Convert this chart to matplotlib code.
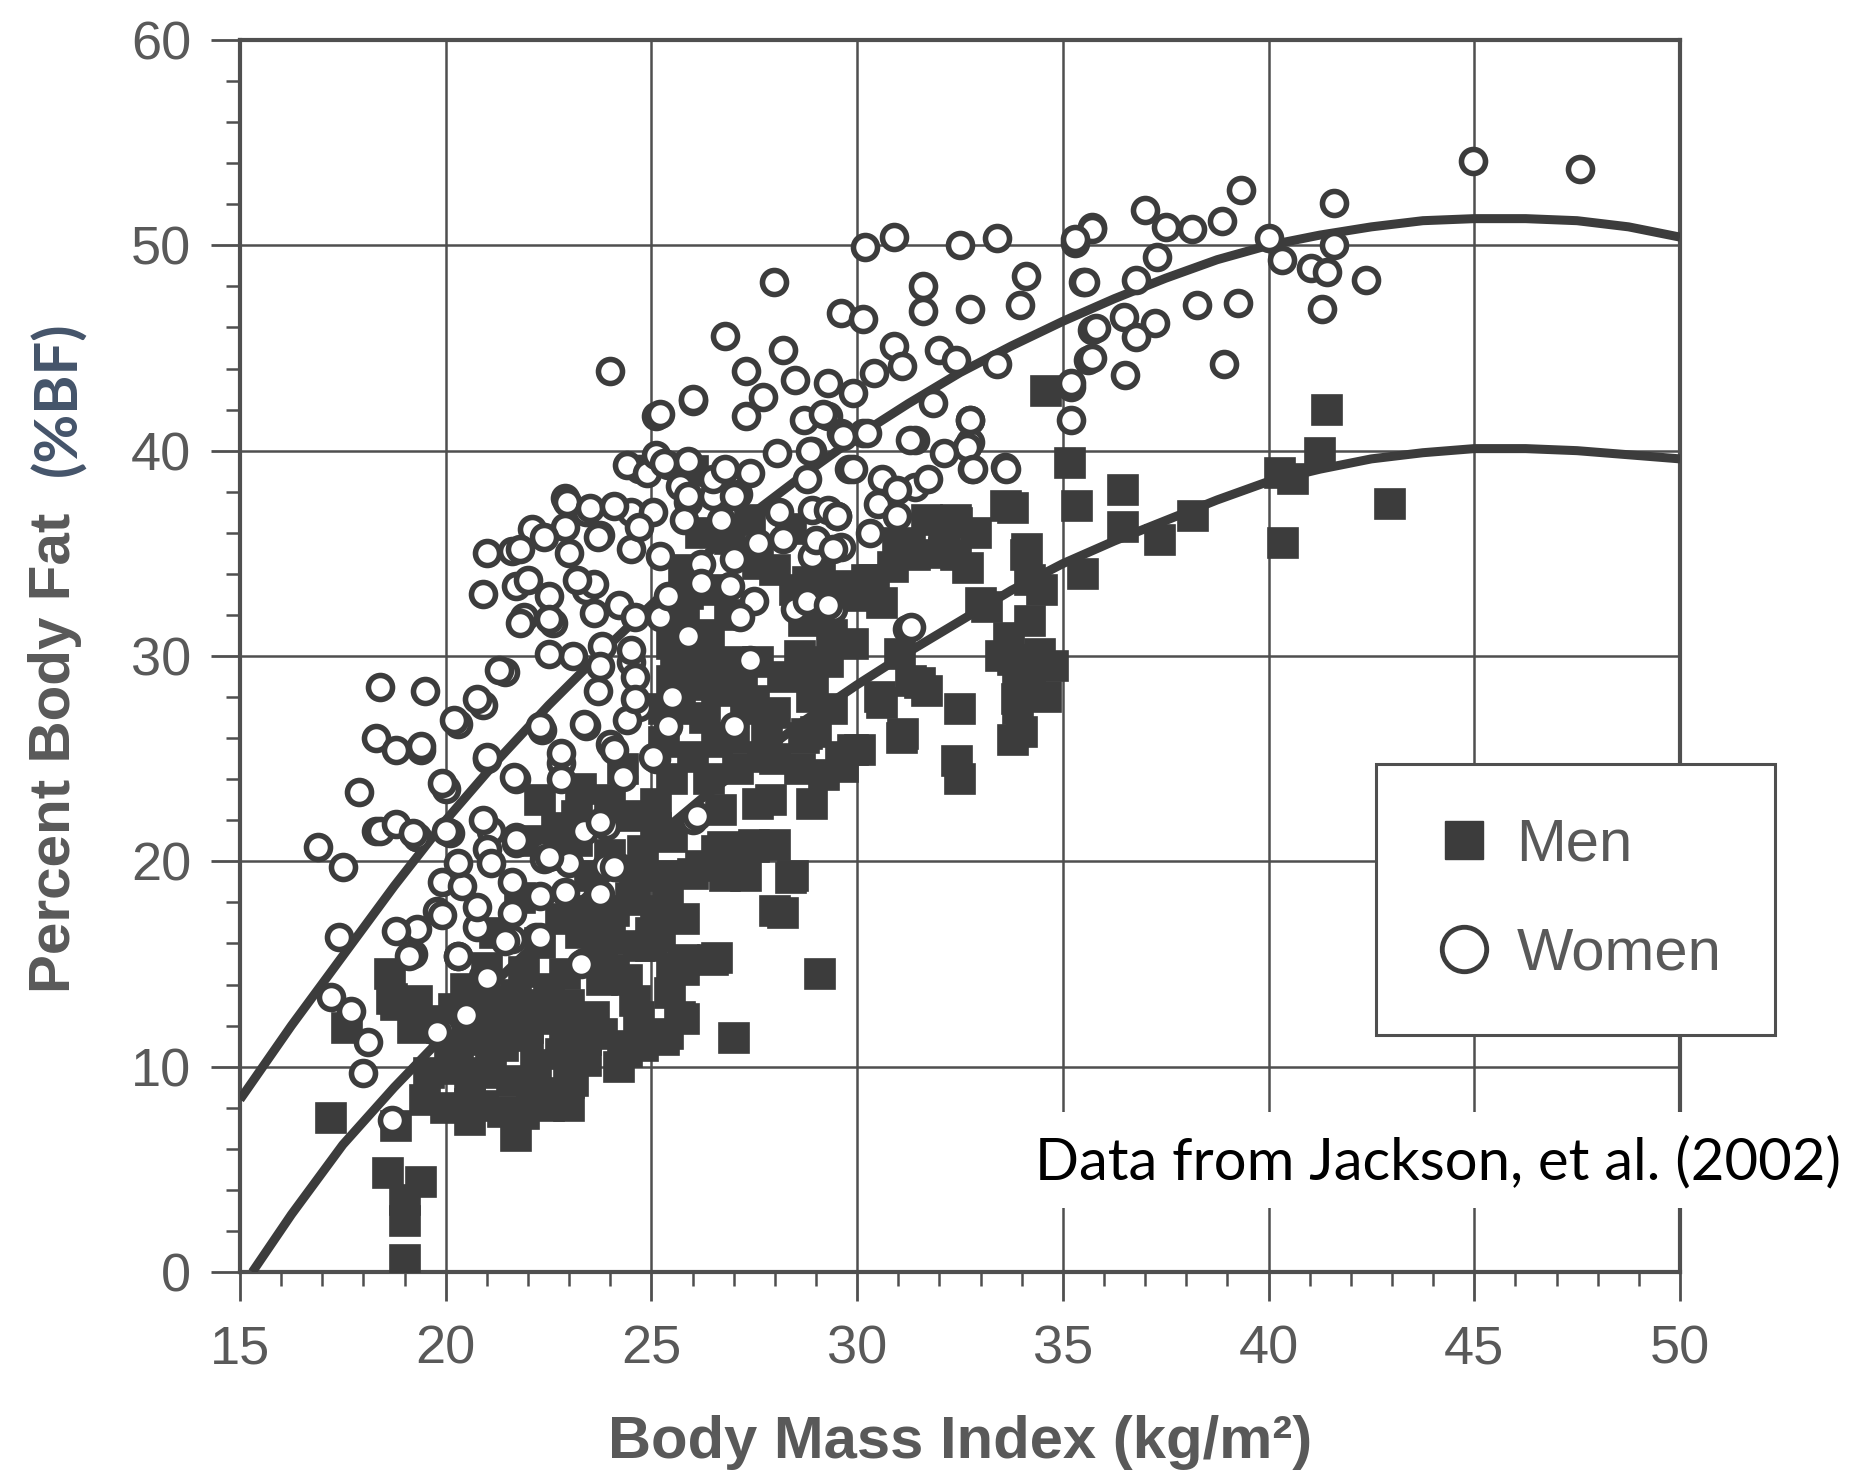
import numpy as np
import matplotlib.pyplot as plt
from matplotlib.lines import Line2D
from matplotlib.patches import Rectangle
from matplotlib.ticker import MultipleLocator

plt.rcParams['font.family'] = ['Liberation Sans', 'DejaVu Sans']

# ----------------------------------------------------------------------------
# Data: (BMI, %BF) for each subject
men = np.array([
    (17.2, 7.5), (18.65, 14.5), (18.7, 13.3), (17.6, 11.9), (18.8, 7.1), (18.6, 4.8),
    (19.4, 4.4), (19.0, 3.5), (19.0, 2.5), (19.0, 0.6), (19.3, 13.2), (19.5, 12.2),
    (19.6, 9.7), (19.5, 8.4), (20.6, 8.2), (20.6, 7.4), (21.7, 6.6), (21.9, 7.7),
    (20.9, 9.7), (21.4, 11.0), (22.5, 8.7), (23.0, 8.1), (23.0, 9.2), (23.4, 10.3),
    (24.2, 10.0), (24.4, 10.7), (25.4, 11.6), (25.8, 12.3), (26.0, 19.4), (25.8, 17.2),
    (20.1, 10.7), (22.4, 12.3), (23.8, 15.2), (23.8, 17.2), (24.6, 18.1), (25.0, 15.9),
    (19.9, 11.9), (20.4, 11.3), (21.4, 7.8), (22.2, 10.1), (23.1, 9.3), (22.5, 8.1),
    (21.4, 11.6), (22.0, 11.9), (22.7, 12.7), (23.4, 11.3), (23.8, 11.6), (24.3, 11.0),
    (24.8, 11.0), (25.3, 11.3), (20.9, 8.1), (20.6, 9.3), (19.2, 11.9), (18.8, 13.0),
    (23.5, 19.3), (23.4, 17.6), (24.1, 17.6), (24.5, 18.2), (24.7, 15.9), (24.1, 14.7),
    (23.8, 14.2), (24.4, 14.2), (25.0, 16.5), (25.1, 17.6), (25.3, 19.3), (24.8, 20.5),
    (25.1, 21.6), (25.1, 22.8), (25.5, 24.0), (26.0, 25.1), (24.4, 22.2), (23.2, 22.2),
    (22.7, 21.6), (22.8, 20.5), (21.8, 18.2), (22.3, 16.0), (22.9, 14.5), (21.7, 13.5),
    (21.0, 14.8), (20.5, 13.8),
    (25.3, 27.4), (25.7, 27.4), (25.5, 28.8), (25.8, 30.0), (26.6, 28.3), (27.0, 29.7),
    (27.6, 29.7), (27.3, 27.4), (28.5, 33.2), (28.7, 31.7), (29.1, 34.3), (26.0, 28.6),
    (25.5, 30.6), (26.4, 30.6), (26.9, 32.0), (26.5, 33.2), (26.0, 39.0), (27.6, 34.5),
    (27.8, 26.5), (27.7, 25.1), (27.1, 24.5), (26.4, 24.0), (27.6, 22.8), (27.5, 20.8),
    (26.6, 20.5), (27.3, 19.3), (26.8, 19.3), (28.0, 20.8), (28.4, 19.2), (28.0, 17.6),
    (29.1, 14.5), (27.0, 11.4), (26.6, 15.3), (25.8, 14.7), (25.7, 12.4), (25.1, 11.4),
    (24.7, 12.4), (28.45, 19.3), (28.2, 17.5), (26.5, 15.2), (25.8, 15.2), (27.5, 20.7),
    (26.75, 20.7), (26.2, 19.75), (27.1, 19.75), (25.4, 18.0), (25.2, 16.3), (25.45, 13.6),
    (28.9, 28.0), (28.7, 26.0), (29.0, 26.3), (29.6, 25.1), (29.9, 25.4), (29.4, 27.4),
    (29.3, 29.7), (29.9, 30.6), (30.1, 32.9), (30.6, 32.6), (30.4, 33.7),
    (29.66, 24.6), (30.07, 25.4), (30.55, 28.0), (31.12, 26.2), (32.5, 27.4), (32.42, 24.9),
    (32.5, 24.0), (31.53, 28.7), (31.04, 30.1), (30.88, 34.35), (30.23, 33.7), (29.5, 33.4),
    (29.1, 31.9), (28.93, 28.7), (28.77, 26.2), (31.28, 35.2),
    (31.3, 28.8), (31.7, 28.3), (31.1, 26.0), (30.6, 27.7), (31.0, 35.5), (31.4, 34.9),
    (31.7, 36.6), (32.4, 34.9), (32.4, 36.6), (32.1, 35.5), (32.7, 34.3), (32.9, 36.0),
    (33.0, 32.6), (33.15, 32.4), (33.63, 37.3), (32.42, 36.5), (32.1, 35.0), (34.12, 35.2),
    (33.8, 29.8), (34.2, 29.2), (34.44, 30.1), (33.88, 27.9), (33.8, 25.9), (33.7, 30.9),
    (33.9, 29.1), (33.5, 30.0), (34.4, 29.7), (34.6, 28.0), (33.9, 27.4), (34.0, 26.3),
    (34.2, 31.7), (34.5, 33.2), (34.2, 33.7), (34.1, 34.9), (33.8, 37.2),
    (35.17, 39.4), (35.34, 37.3), (36.47, 38.1), (36.47, 36.3), (37.36, 35.65), (38.17, 36.8),
    (35.5, 34.0), (34.6, 42.9), (34.77, 29.5),
    (41.42, 42.0), (41.25, 39.9), (40.28, 38.9), (40.36, 35.5), (42.96, 37.4), (40.6, 38.6),
    (22.0, 21.0), (22.6, 20.3), (23.2, 21.0), (24.0, 20.3), (24.6, 19.5), (25.5, 21.2),
    (25.8, 32.0), (26.3, 31.0), (26.8, 29.0), (26.3, 27.0), (27.0, 26.0), (28.0, 25.0),
    (28.6, 24.5), (29.2, 24.2), (27.5, 27.8), (28.2, 29.0), (21.8, 13.0), (22.0, 11.5),
    (20.2, 12.8), (20.8, 12.0), (21.2, 13.2), (21.9, 14.6), (22.5, 13.8), (23.0, 13.0),
    (23.3, 16.5), (22.8, 17.2), (21.2, 16.5), (25.6, 29.5), (26.4, 29.2), (27.2, 28.4),
    (28.0, 27.2), (28.6, 30.0), (29.4, 31.0), (28.8, 33.6), (26.2, 36.0), (26.9, 35.7),
    (27.4, 36.6), (28.0, 34.2), (28.4, 36.2), (25.8, 34.2), (26.6, 25.8), (25.3, 25.8),
    (24.3, 24.5), (24.0, 23.0), (23.3, 23.5), (22.3, 23.0), (26.7, 22.5), (27.9, 23.0),
    (28.9, 22.8), (25.9, 33.0),
    (20.3, 9.9), (21.1, 10.5), (21.6, 9.3), (22.1, 8.6), (22.8, 10.6), (23.6, 12.4),
    (24.6, 13.2), (24.0, 16.2), (25.5, 14.8), (21.2, 12.3), (20.0, 8.0), (22.9, 11.9),
])

women = np.array([
    (16.9, 20.7), (17.5, 19.7), (17.4, 16.3), (17.2, 13.4), (17.7, 12.7), (18.1, 11.2),
    (18.0, 9.7), (18.7, 7.4), (19.9, 11.8), (20.5, 12.7), (20.9, 14.4), (20.3, 15.4),
    (19.2, 15.5), (19.8, 17.6), (19.3, 16.7), (20.75, 16.8), (21.6, 16.2), (22.2, 16.3),
    (21.6, 17.5), (22.3, 18.3), (22.9, 18.5), (23.7, 18.4), (23.35, 15.1), (24.2, 19.7),
    (19.9, 19.0), (19.3, 21.2), (20.1, 21.4), (21.1, 21.5), (21.7, 20.9), (22.4, 20.4),
    (23.0, 19.9), (23.35, 21.5), (23.9, 21.7), (18.3, 21.5), (20.4, 18.8),
    (18.4, 28.5), (19.5, 28.3), (18.3, 26.0), (18.8, 25.4), (19.4, 25.4), (17.9, 23.4),
    (18.4, 21.5), (18.8, 21.8), (19.3, 21.2), (20.3, 26.7), (20.0, 23.5), (20.9, 27.6),
    (21.45, 29.2), (21.0, 25.0), (21.7, 24.0), (22.35, 26.4), (22.8, 24.8), (23.4, 26.6),
    (24.0, 25.7), (24.7, 27.5), (25.1, 25.0), (25.5, 27.9), (21.9, 31.9), (22.6, 31.6),
    (23.1, 30.0), (23.8, 30.5), (24.5, 29.7), (25.2, 31.9), (23.7, 28.3), (21.0, 20.6),
    (21.7, 21.2), (22.4, 20.1), (21.6, 19.0), (20.75, 17.8), (19.9, 17.4), (21.45, 16.1),
    (22.3, 16.3), (18.8, 16.6), (20.3, 15.4), (19.1, 15.4), (21.0, 14.3), (20.5, 12.5),
    (19.8, 11.7), (23.3, 15.0), (23.75, 18.4),
    (22.9, 37.7), (23.4, 37.0), (24.5, 37.0), (25.05, 37.0), (25.9, 37.5), (26.5, 37.8),
    (27.1, 37.9), (28.1, 37.0), (28.9, 37.1), (29.5, 36.8), (22.1, 36.2), (22.9, 36.3),
    (23.75, 35.9), (24.5, 35.2), (25.2, 34.85), (26.2, 34.5), (27.0, 34.7), (27.6, 35.5),
    (28.2, 35.7), (28.9, 34.85), (29.6, 35.3), (21.6, 35.1), (23.4, 33.2), (24.2, 32.5),
    (25.4, 32.9), (26.2, 33.55), (26.9, 33.4), (27.5, 32.7), (28.5, 32.3), (29.3, 32.25),
    (21.7, 33.4), (22.5, 32.9), (21.8, 31.6), (22.5, 31.8), (23.6, 32.1), (24.6, 31.9),
    (25.9, 30.95), (27.15, 31.9), (27.4, 29.8), (22.5, 30.1), (23.75, 29.5), (24.5, 30.3),
    (24.6, 29.0), (25.5, 28.0), (21.3, 29.3), (20.75, 27.9), (20.2, 26.9), (22.3, 26.6),
    (23.35, 26.7), (24.4, 26.9), (24.6, 27.9), (25.4, 26.6), (27.0, 26.6), (19.4, 25.6),
    (21.0, 25.1), (22.8, 25.3), (24.1, 25.4), (25.05, 25.1), (19.9, 23.8), (21.65, 24.1),
    (22.8, 24.0), (24.3, 24.1), (20.9, 22.0), (21.7, 21.05), (23.75, 21.9), (26.0, 22.0),
    (20.0, 21.5), (19.2, 21.4), (22.5, 20.2), (23.9, 19.75), (20.3, 19.9), (21.1, 19.9),
    (24.0, 43.9), (25.1, 41.7), (26.0, 42.4), (24.7, 39.1), (22.95, 37.5), (25.4, 39.3),
    (23.5, 37.2), (21.0, 35.0), (20.9, 33.0), (22.0, 33.7), (23.0, 35.0), (23.6, 33.5),
    (24.4, 39.3), (24.9, 38.9), (25.7, 38.3), (25.8, 36.6), (26.5, 38.6), (27.0, 37.8),
    (26.7, 36.6), (25.9, 39.5), (25.1, 39.8), (24.1, 37.3), (24.7, 36.3), (23.7, 35.8),
    (22.4, 35.8), (21.8, 35.2), (23.2, 33.7),
    (27.97, 48.2), (29.6, 46.7), (30.15, 46.4), (30.2, 49.9), (30.9, 50.4), (32.5, 50.0),
    (33.4, 50.35), (31.6, 48.0), (31.6, 46.8), (32.75, 46.9), (34.1, 48.5), (33.96, 47.1),
    (35.3, 50.1), (35.7, 50.9), (35.5, 48.2), (35.7, 45.9), (35.6, 44.4), (35.2, 43.1),
    (35.2, 41.5), (26.8, 45.6), (28.2, 44.9), (30.9, 45.1), (32.0, 44.9), (32.4, 44.4),
    (33.4, 44.2), (27.3, 43.9), (26.0, 42.5), (25.2, 41.8), (28.5, 43.45), (29.3, 43.3),
    (29.9, 42.8), (30.4, 43.8), (31.1, 44.1), (27.7, 42.6), (27.3, 41.7), (28.7, 41.5),
    (29.3, 41.7), (30.15, 40.85), (29.6, 40.85), (31.85, 42.3), (32.75, 41.5), (32.75, 40.4),
    (33.6, 39.2), (32.8, 39.1), (31.4, 40.5), (28.9, 40.0), (28.05, 39.9), (27.4, 38.9),
    (29.8, 39.1), (30.6, 38.6), (31.4, 38.25), (26.8, 39.1), (25.9, 37.8), (25.3, 39.4),
    (29.3, 37.1), (30.5, 37.4),
    (44.96, 54.1), (47.56, 53.7), (39.34, 52.7), (41.6, 52.05), (36.99, 51.7), (35.71, 50.8),
    (35.29, 50.3), (37.5, 50.9), (38.14, 50.8), (38.87, 51.2), (40.02, 50.35), (41.6, 50.0),
    (37.29, 49.45), (35.54, 48.2), (36.78, 48.3), (40.32, 49.3), (41.04, 48.9), (41.42, 48.7),
    (42.36, 48.3), (41.3, 46.9), (38.27, 47.1), (39.25, 47.2), (36.48, 46.5), (37.25, 46.2),
    (35.8, 45.96), (36.78, 45.56), (35.71, 44.5), (36.52, 43.7), (35.2, 43.3), (38.91, 44.2),
    (29.18, 41.8), (29.66, 40.7), (30.23, 40.85), (31.28, 40.5), (32.74, 41.5), (32.66, 40.2),
    (33.63, 39.1), (32.82, 39.1), (32.1, 39.9), (31.73, 38.6), (30.96, 38.1), (29.9, 39.1),
    (28.85, 40.0), (28.77, 38.6), (29.5, 36.8), (29.0, 35.65), (30.31, 36.0), (30.96, 36.8),
    (29.42, 35.2), (28.77, 32.7), (29.42, 32.3), (31.2, 31.3),
    (24.1, 19.7), (26.1, 22.2), (29.3, 32.5), (31.3, 31.4),
])

# Fitted curves, read at fixed BMI steps
fit_bmi_men = [15.3, 16.25, 17.5, 18.75, 20, 21.25, 22.5, 23.75, 25, 26.25, 27.5, 28.75,
               30, 31.25, 32.5, 33.75, 35, 36.25, 37.5, 38.75, 40, 41.25, 42.5, 43.75,
               45, 46.25, 47.5, 48.75, 50]
fit_bf_men = [0, 2.8, 6.2, 9.0, 11.6, 14.2, 16.6, 18.9, 21.0, 23.1, 25.0, 26.9,
              28.6, 30.2, 31.7, 33.2, 34.5, 35.6, 36.6, 37.6, 38.5, 39.1, 39.6, 39.9,
              40.1, 40.1, 40.0, 39.8, 39.6]
fit_bmi_women = [15, 16.25, 17.5, 18.75, 20, 21.25, 22.5, 23.75, 25, 26.25, 27.5, 28.75,
                 30, 31.25, 32.5, 33.75, 35, 36.25, 37.5, 38.75, 40, 41.25, 42.5, 43.75,
                 45, 46.25, 47.5, 48.75, 50]
fit_bf_women = [8.4, 12.0, 15.4, 18.8, 22.0, 24.9, 27.6, 30.1, 32.5, 34.8, 37.0, 38.9,
                40.7, 42.3, 43.8, 45.1, 46.3, 47.4, 48.4, 49.3, 50.0, 50.5, 50.9, 51.2,
                51.3, 51.3, 51.2, 50.9, 50.4]

ink = '#3c3c3c'
grid_c = '#4f4f4f'
label_c = '#595959'

# ----------------------------------------------------------------------------
fig = plt.figure(figsize=(18.54, 14.84), dpi=100)
ax = fig.add_axes([240 / 1854, 1 - 1272 / 1484, 1440 / 1854, 1232 / 1484])

ax.plot(men[:, 0], men[:, 1], linestyle='none', marker='s', ms=21.5,
        mfc=ink, mec=ink, mew=1.2, zorder=3)
ax.plot(fit_bmi_men, fit_bf_men, color=ink, lw=6.5, zorder=4,
        solid_capstyle='butt', solid_joinstyle='round')
ax.plot(fit_bmi_women, fit_bf_women, color=ink, lw=6.5, zorder=4,
        solid_capstyle='butt', solid_joinstyle='round')
ax.plot(women[:, 0], women[:, 1], linestyle='none', marker='o', ms=17.3,
        mfc='white', mec=ink, mew=4.0, zorder=5)

ax.set_xlim(15, 50)
ax.set_ylim(0, 60)
ax.set_xticks(range(15, 51, 5))
ax.set_yticks(range(0, 61, 10))
ax.xaxis.set_minor_locator(MultipleLocator(1))
ax.yaxis.set_minor_locator(MultipleLocator(2))
ax.grid(True, which='major', color=grid_c, lw=1.8)
ax.set_axisbelow(True)

for side in ['left', 'top', 'right', 'bottom']:
    ax.spines[side].set_color(grid_c)
    ax.spines[side].set_linewidth(3)

ax.tick_params(which='major', direction='out', length=21, width=2, color=grid_c,
               labelsize=39, labelcolor=label_c)
ax.tick_params(which='minor', direction='out', length=10, width=1.8, color=grid_c)
ax.tick_params(axis='x', which='major', pad=17)
ax.tick_params(axis='y', which='major', pad=14)

# Axis titles
fig.text(960 / 1854, 1 - 1443 / 1484, 'Body Mass Index (kg/m²)', ha='center', va='center',
         fontsize=43, fontweight='bold', color=label_c)
fig.text(55 / 1854, 1 - 753 / 1484, 'Percent Body Fat', rotation=90, ha='center',
         va='center', fontsize=42, fontweight='bold', color=label_c)
fig.text(58 / 1854, 1 - 399 / 1484, '(%BF)', rotation=90, ha='center', va='center',
         fontsize=43, fontweight='bold', color='#44546A', family=['Lato', 'DejaVu Sans'])

# Legend
handles = [
    Line2D([], [], linestyle='none', marker='s', ms=28, mfc=ink, mec=ink),
    Line2D([], [], linestyle='none', marker='o', ms=32, mfc='white', mec=ink, mew=3.5),
]
leg = ax.legend(handles, ['Men', 'Women'], loc='upper left',
                bbox_to_anchor=(1376 / 1854, 1 - 764 / 1484), bbox_transform=fig.transFigure,
                borderaxespad=0, fontsize=43, labelcolor=label_c, frameon=True,
                fancybox=False, framealpha=1, edgecolor=grid_c, borderpad=0.9,
                labelspacing=0.9, handlelength=1.15, handletextpad=0.3)
leg.get_frame().set_linewidth(2.2)

# Source note on a white band
fig.add_artist(Rectangle((1015 / 1854, 1 - 1208 / 1484), 1 - 1015 / 1854, 96 / 1484,
                         transform=fig.transFigure, facecolor='white', edgecolor='none',
                         zorder=5))
fig.text(1035 / 1854, 1 - 1163 / 1484, 'Data from Jackson, et al. (2002)', ha='left',
         va='center', fontsize=41.8, color='black', family=['Lato', 'DejaVu Sans'], zorder=6)

fig.savefig('out.png', dpi=100)
